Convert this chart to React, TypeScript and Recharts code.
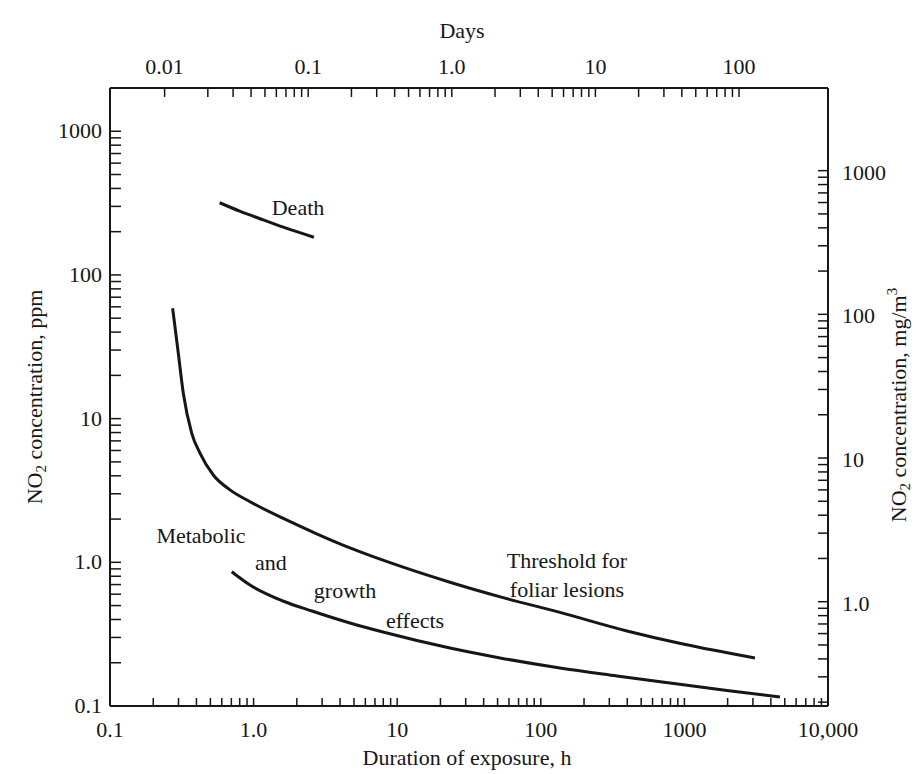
import React from 'react'
import { LineChart, Line, XAxis, YAxis } from 'recharts'

// NO2 exposure curves, hours vs ppm
const deathHours = [0.58, 0.8, 1.11, 1.61, 2.63]
const deathPpm = [318, 278, 246, 215, 183]

const foliarHours = [0.273, 0.299, 0.324, 0.371, 0.424, 0.524, 0.685, 0.944, 1.61, 2.75, 4.69, 10.5, 23.3, 54.6, 136, 398, 978, 3100]
const foliarPpm = [58.6, 28.5, 15.0, 7.9, 5.73, 4.05, 3.19, 2.64, 2.02, 1.58, 1.26, 0.94, 0.727, 0.568, 0.448, 0.333, 0.27, 0.216]

const growthHours = [0.704, 0.944, 1.6, 2.55, 4.69, 7.96, 23.3, 52, 136, 339, 794, 1980, 4630]
const growthPpm = [0.86, 0.695, 0.538, 0.458, 0.378, 0.327, 0.253, 0.216, 0.184, 0.162, 0.1445, 0.128, 0.1155]

// labelled ticks
const hourMajor = [0.1, 1, 10, 100, 1000, 10000]
const hourLabels = ['0.1', '1.0', '10', '100', '1000', '10,000']
const dayMajor = [0.01, 0.1, 1, 10, 100]
const dayLabels = ['0.01', '0.1', '1.0', '10', '100']
const ppmMajor = [0.1, 1, 10, 100, 1000]
const ppmLabels = ['0.1', '1.0', '10', '100', '1000']
const mgMajor = [1, 10, 100, 1000]
const mgLabels = ['1.0', '10', '100', '1000']

const MG_PER_PPM = 1.88
const HOURS_PER_DAY = 24

const W = 917
const H = 774
const ink = '#161616'
const font = '"Liberation Serif", "Times New Roman", serif'

const rows = (xs: number[], ys: number[]) => xs.map((h, i) => ({ h, ppm: ys[i] }))
const deathData = rows(deathHours, deathPpm)
const foliarData = rows(foliarHours, foliarPpm)
const growthData = rows(growthHours, growthPpm)

// 1..9 x 10^n between lo and hi
const logTicks = (lo: number, hi: number) => {
  const out: number[] = []
  for (let e = Math.floor(Math.log10(lo)); e <= Math.ceil(Math.log10(hi)); e++) {
    for (let k = 1; k <= 9; k++) {
      const v = k * Math.pow(10, e)
      if (v >= lo * 0.999 && v <= hi * 1.001) out.push(v)
    }
  }
  return out
}

const labelFor = (v: number, values: number[], labels: string[]) => {
  const i = values.findIndex(m => Math.abs(Math.log10(m) - Math.log10(v)) < 1e-6)
  return i >= 0 ? labels[i] : null
}

const txt = { fontFamily: font, fontSize: 22, fill: ink }

const bottomTick = (p: any) => {
  const label = labelFor(p.payload.value, hourMajor, hourLabels)
  return (
    <g>
      <line x1={p.x} x2={p.x} y1={p.y} y2={p.y - 8} stroke={ink} strokeWidth={1.5} />
      {label && <text x={p.x} y={p.y + 31} textAnchor="middle" {...txt}>{label}</text>}
    </g>
  )
}

const topTick = (p: any) => {
  const label = labelFor(p.payload.value, dayMajor, dayLabels)
  return (
    <g>
      <line x1={p.x} x2={p.x} y1={p.y} y2={p.y + 9} stroke={ink} strokeWidth={1.5} />
      {label && <text x={p.x} y={p.y - 14} textAnchor="middle" {...txt}>{label}</text>}
    </g>
  )
}

const leftTick = (p: any) => {
  const label = labelFor(p.payload.value, ppmMajor, ppmLabels)
  return (
    <g>
      <line x1={p.x} x2={p.x + 11} y1={p.y} y2={p.y} stroke={ink} strokeWidth={1.5} />
      {label && <text x={p.x - 8} y={p.y + 7} textAnchor="end" {...txt}>{label}</text>}
    </g>
  )
}

const rightTick = (p: any) => {
  const label = labelFor(p.payload.value, mgMajor, mgLabels)
  return (
    <g>
      <line x1={p.x} x2={p.x - 10} y1={p.y} y2={p.y} stroke={ink} strokeWidth={1.5} />
      {label && <text x={p.x + 14} y={p.y + 9} textAnchor="start" {...txt}>{label}</text>}
    </g>
  )
}

const frame = { stroke: ink, strokeWidth: 2 }
const toDays = (r: { h: number }) => r.h / HOURS_PER_DAY

export default function App() {
  return (
    <div style={{ position: 'absolute', left: 0, top: 0, width: W, height: H, background: '#fff' }}>
      <LineChart width={W} height={H} margin={{ top: 0, right: 0, bottom: 0, left: 0 }}>
        <XAxis
          xAxisId="h" type="number" dataKey="h" scale="log" domain={[0.1, 10000]} allowDataOverflow
          ticks={logTicks(0.1, 10000)} interval={0} tickSize={0} tickMargin={0}
          orientation="bottom" height={68} axisLine={frame} tickLine={false} tick={bottomTick}
        />
        <XAxis
          xAxisId="days" type="number" dataKey={toDays} scale="log"
          domain={[0.1 / HOURS_PER_DAY, 10000 / HOURS_PER_DAY]} allowDataOverflow
          ticks={logTicks(0.01, 100)} interval={0} tickSize={0} tickMargin={0}
          orientation="top" height={88} axisLine={frame} tickLine={false} tick={topTick}
        />
        <YAxis
          yAxisId="ppm" type="number" scale="log" domain={[0.1, 2000]} allowDataOverflow
          ticks={logTicks(0.1, 1000)} interval={0} tickSize={0} tickMargin={0}
          orientation="left" width={110} axisLine={frame} tickLine={false} tick={leftTick}
        />
        <YAxis
          yAxisId="mg" type="number" scale="log"
          domain={[0.1 * MG_PER_PPM, 2000 * MG_PER_PPM]} allowDataOverflow
          ticks={logTicks(0.2, 1000)} interval={0} tickSize={0} tickMargin={0}
          orientation="right" width={89} axisLine={frame} tickLine={false} tick={rightTick}
        />

        {/* death curve goes through the days axis, same positions */}
        <Line xAxisId="days" yAxisId="ppm" data={deathData} dataKey="ppm" type="monotone"
          stroke={ink} strokeWidth={3} dot={false} isAnimationActive={false} />
        <Line xAxisId="h" yAxisId="ppm" data={foliarData} dataKey="ppm" type="monotone"
          stroke={ink} strokeWidth={3} dot={false} isAnimationActive={false} />
        <Line xAxisId="h" yAxisId="ppm" data={growthData} dataKey="ppm" type="monotone"
          stroke={ink} strokeWidth={3} dot={false} isAnimationActive={false} />

        {/* axis titles */}
        <text x={462} y={38} textAnchor="middle" {...txt}>Days</text>
        <text x={467} y={765} textAnchor="middle" {...txt}>Duration of exposure, h</text>
        <text transform="translate(42,397) rotate(-90)" textAnchor="middle" {...txt}>
          NO<tspan dy={4} fontSize={15}>2</tspan><tspan dy={-4}> concentration, ppm</tspan>
        </text>
        <text transform="translate(906,405) rotate(-90)" textAnchor="middle" {...txt}>
          NO<tspan dy={4} fontSize={15}>2</tspan><tspan dy={-4}> concentration, mg/m</tspan>
          <tspan dy={-9} fontSize={15}>3</tspan>
        </text>

        {/* curve notes */}
        <text x={298} y={215} textAnchor="middle" {...txt}>Death</text>
        <text x={201} y={543} textAnchor="middle" {...txt}>Metabolic</text>
        <text x={271} y={570} textAnchor="middle" {...txt}>and</text>
        <text x={345} y={598} textAnchor="middle" {...txt}>growth</text>
        <text x={415} y={628} textAnchor="middle" {...txt}>effects</text>
        <text x={567} y={568} textAnchor="middle" {...txt}>Threshold for</text>
        <text x={567} y={597} textAnchor="middle" {...txt}>foliar lesions</text>
      </LineChart>
    </div>
  )
}
